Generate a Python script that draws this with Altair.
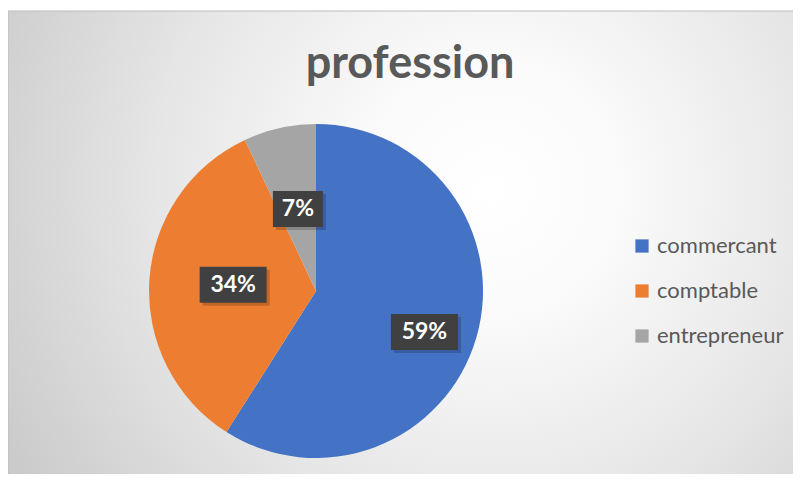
import altair as alt
import pandas as pd

categories = ["commercant", "comptable", "entrepreneur"]
shares = [59, 34, 7]
labels = ["59%", "34%", "7%"]
colors = ["#4472C4", "#ED7D31", "#A5A5A5"]

df = pd.DataFrame({"profession": categories, "value": shares, "label": labels,
                   "order": list(range(len(categories)))})

W, H = 785, 466
CX, CY, R = 308, 283, 167
FONT = "Lato"

bg = alt.Chart(pd.DataFrame({"a": [0]})).mark_rect(
    fill={"gradient": "radial", "x1": 0.6, "y1": 0.42, "r1": 0,
          "x2": 0.6, "y2": 0.42, "r2": 0.75,
          "stops": [{"offset": 0, "color": "#ffffff"},
                    {"offset": 0.2, "color": "#fbfbfb"},
                    {"offset": 0.55, "color": "#e6e6e6"},
                    {"offset": 1, "color": "#c4c4c4"}]},
    stroke="#bcbcbc", strokeWidth=1
).encode(x=alt.value(0), x2=alt.value(W + 20), y=alt.value(3), y2=alt.value(H + 20))

title = alt.Chart(pd.DataFrame({"t": ["profession"]})).mark_text(
    font=FONT, fontSize=45, fontWeight="bold", color="#595959",
    align="center", baseline="alphabetic"
).encode(text="t:N", x=alt.value(402), y=alt.value(70))

pie = alt.Chart(df).mark_arc(radius=R, stroke=None).encode(
    theta=alt.Theta("value:Q", stack=True),
    color=alt.Color("profession:N", sort=categories,
                    scale=alt.Scale(domain=categories, range=colors),
                    legend=alt.Legend(orient="none", legendX=623, legendY=227,
                                      title=None, symbolType="square", symbolSize=175,
                                      symbolStrokeWidth=0, labelFont=FONT,
                                      labelFontSize=22, labelColor="#595959",
                                      rowPadding=23, labelOffset=4)),
    order=alt.Order("order:Q"),
    x=alt.value(CX), y=alt.value(CY),
)

base = alt.Chart(df).transform_joinaggregate(
    total="sum(value)"
).transform_window(
    cum="sum(value)", sort=[alt.SortField("order")], frame=[None, 0]
).transform_calculate(
    mid="(datum.cum - datum.value / 2) / datum.total * 2 * PI",
    big="datum.value / datum.total > 0.5 ? 1 : 0",
).transform_calculate(
    rr="datum.big ? 115 : 83",
).transform_calculate(
    lx=f"{CX} + datum.rr * sin(datum.mid) - 2 * datum.big",
    ly=f"{CY} - datum.rr * cos(datum.mid) + 10 * datum.big - 1",
    bw="length(datum.label) * 17 + 16",
).transform_calculate(
    x1="datum.lx - datum.bw / 2", x2="datum.lx + datum.bw / 2",
    y1="datum.ly - 18", y2="datum.ly + 18",
    sx1="datum.lx - datum.bw / 2 + 3", sx2="datum.lx + datum.bw / 2 + 3",
    sy1="datum.ly - 15", sy2="datum.ly + 21",
)

shadow = base.mark_rect(color="#000000", opacity=0.18).encode(
    x=alt.X("sx1:Q", scale=None), x2="sx2:Q",
    y=alt.Y("sy1:Q", scale=None), y2="sy2:Q")

boxes = base.mark_rect(color="#404040").encode(
    x=alt.X("x1:Q", scale=None), x2="x2:Q",
    y=alt.Y("y1:Q", scale=None), y2="y2:Q")

texts = base.mark_text(font=FONT, fontSize=23, fontWeight="bold", color="white",
                       align="center", baseline="middle").encode(
    x=alt.X("lx:Q", scale=None), y=alt.Y("ly:Q", scale=None), text="label:N")

chart = alt.layer(bg, title, pie, shadow, boxes, texts).properties(
    width=W, height=H, padding=0, autosize=alt.AutoSizeParams(type="none"),
    background="white"
).configure_view(stroke=None)

chart.save("out.html", embed_options={"renderer": "svg", "actions": False})
